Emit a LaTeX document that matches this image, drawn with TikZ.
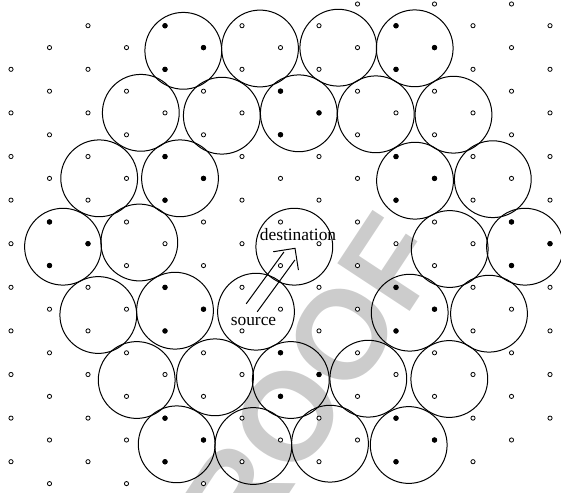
\documentclass[tikz,border=0pt]{standalone}
\usepackage{fontspec}
\setmainfont{Liberation Serif}
\setsansfont{Liberation Sans}
\usetikzlibrary{calc}

\begin{document}
\begin{tikzpicture}[x=0.5pt,y=-0.5pt,
  cell/.style={circle,draw,line width=0.5pt,inner sep=0pt,minimum size=38.4pt},
  dot/.style={circle,draw,line width=0.4pt,fill=white,inner sep=0pt,minimum size=2.1pt},
  hit/.style={circle,fill=black,inner sep=0pt,minimum size=2.7pt},
  lbl/.style={font=\fontsize{8.7}{10}\selectfont,inner sep=0pt,anchor=base}]

\useasboundingbox (0,0) rectangle (561,492);

% watermark
\node[text=black!20,font=\sffamily\bfseries\fontsize{63}{63}\selectfont,rotate=56.6] (mark) at (288,417) {PROOF};

% coverage circles
\foreach \cx/\cy [count=\n] in {183.3/50.8, 260/48.5, 338.3/47.7, 414.7/48.3,
    140.8/112.8, 221.8/115.7, 298.8/113.3, 375.8/114.3, 453.5/114.7,
    99.2/178.3, 180/178.3, 415/180.7, 492.8/179.2,
    63/246.7, 139.3/242.5, 449.7/249, 525/246.7,
    98.3/315, 175/310.7, 409.7/312.7, 489/313.7,
    136.7/380, 215/377.3, 290.8/380, 368.3/378.7, 449.3/379,
    176.7/444.3, 253.3/446, 330/443.7, 408.7/445}
  \node[cell] (c\n) at (\cx,\cy) {};
\node[cell] (dest) at (294.3,246.7) {};
\node[cell] (src) at (256,311.7) {};

% lattice of nodes
\foreach \i/\ka/\kb in {0/1/10,1/1/11,2/0/10,3/1/11,4/0/10,5/1/11,6/0/10,7/1/10,
    8/0/10,9/0/10,10/0/10,11/0/10,12/0/10,13/0/10,14/0/9}{
  \pgfmathsetmacro\yo{mod(\i,2)==1 ? 4 : 25.7}
  \foreach \k in {\ka,...,\kb}
    \node[dot] (d-\i-\k) at ({11+38.5*\i},{\yo+43.6*\k}) {};
}

% black nodes
\foreach \i/\k in {4/1,10/1,7/2,4/4,10/4,1/5,13/5,4/7,10/7,7/8,4/10,10/10}{
  \pgfmathsetmacro\yr{mod(\i+1,2)==1 ? 4+43.6*\k : 25.7+43.6*\k}
  \node[hit] (h-\i-\k-r) at ({11+38.5*(\i+1)},{\yr}) {};
  \node[hit] (h-\i-\k-t) at ({11+38.5*\i},{\yr-21.8}) {};
  \node[hit] (h-\i-\k-b) at ({11+38.5*\i},{\yr+21.8}) {};
}

\node[lbl] (dlbl) at (298,240.7) {destination};
\node[lbl] (slbl) at (253.5,325.7) {source};

% double arrow
\coordinate (tail) at (251.7,307.8);
\coordinate (tip) at (295,248.3);
\coordinate (neck) at ($(tip)!4.75pt!(tail)$);
\draw[line width=0.5pt] ($(tail)!3.4pt!90:(tip)$) -- ($(neck)!3.4pt!90:(tip)$);
\draw[line width=0.5pt] ($(tail)!3.4pt!-90:(tip)$) -- ($(neck)!3.4pt!-90:(tip)$);
\draw[line width=0.5pt] ($(tip)!11pt!45:(tail)$) -- (tip) -- ($(tip)!11pt!-45:(tail)$);

\end{tikzpicture}
\end{document}
